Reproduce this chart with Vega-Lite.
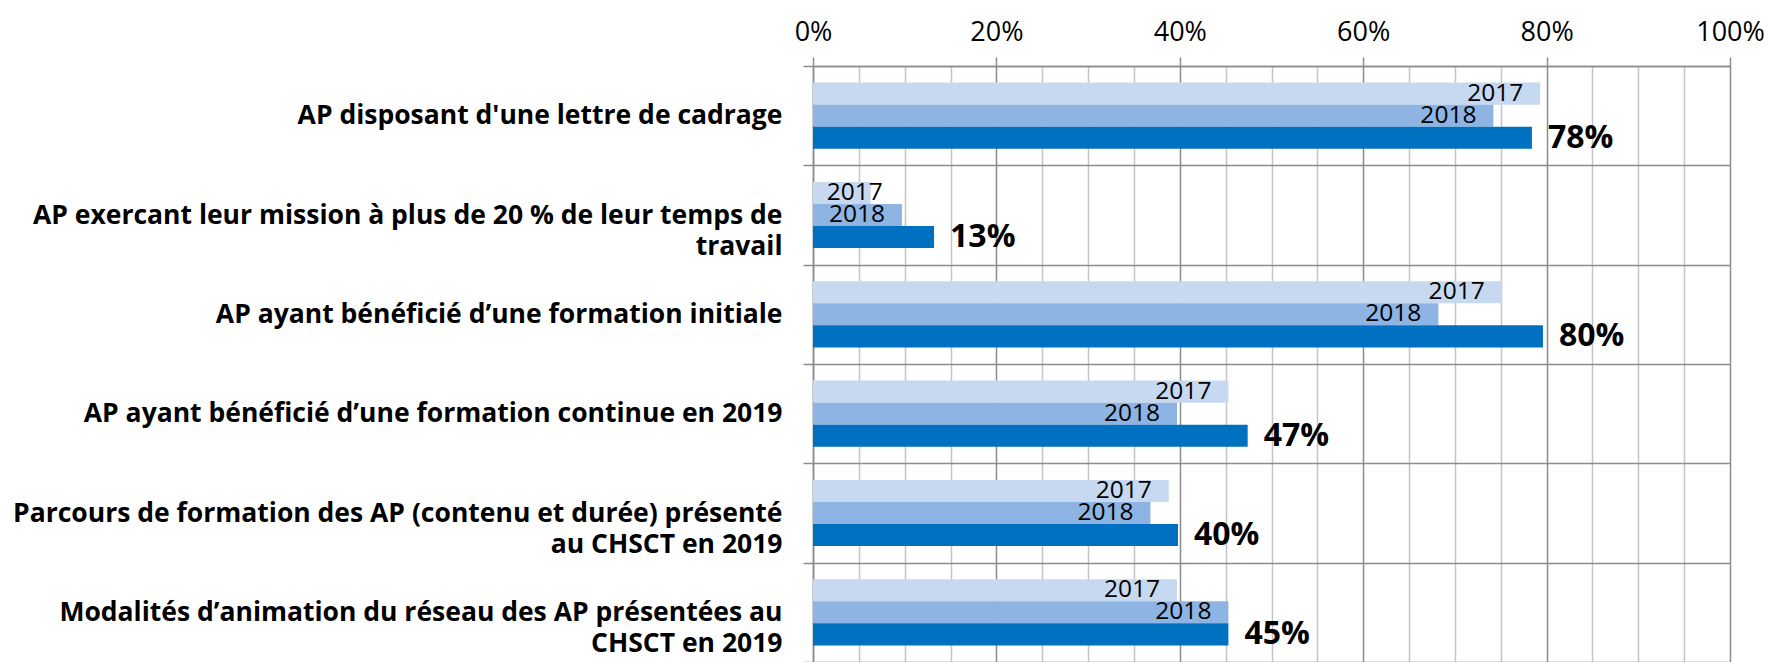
{
  "$schema": "https://vega.github.io/schema/vega-lite/v6.json",
  "width": 917,
  "height": 596,
  "autosize": "none",
  "padding": {"left": 813, "top": 66, "right": 40, "bottom": 0},
  "background": "white",
  "config": {"view": {"stroke": null}, "font": "Open Sans"},
  "data": {
    "values": [
      {"cat": "AP disposant d'une lettre de cadrage", "year": "2017", "v": 0.793},
      {"cat": "AP disposant d'une lettre de cadrage", "year": "2018", "v": 0.742},
      {"cat": "AP disposant d'une lettre de cadrage", "year": "2019", "v": 0.784},
      {"cat": "AP exercant leur mission à plus de 20 % de leur temps de|travail", "year": "2017", "v": 0.063},
      {"cat": "AP exercant leur mission à plus de 20 % de leur temps de|travail", "year": "2018", "v": 0.097},
      {"cat": "AP exercant leur mission à plus de 20 % de leur temps de|travail", "year": "2019", "v": 0.132},
      {"cat": "AP ayant bénéficié d’une formation initiale", "year": "2017", "v": 0.751},
      {"cat": "AP ayant bénéficié d’une formation initiale", "year": "2018", "v": 0.682},
      {"cat": "AP ayant bénéficié d’une formation initiale", "year": "2019", "v": 0.796},
      {"cat": "AP ayant bénéficié d’une formation  continue en 2019", "year": "2017", "v": 0.453},
      {"cat": "AP ayant bénéficié d’une formation  continue en 2019", "year": "2018", "v": 0.397},
      {"cat": "AP ayant bénéficié d’une formation  continue en 2019", "year": "2019", "v": 0.474},
      {"cat": "Parcours de formation des AP (contenu et durée) présenté|au CHSCT en 2019", "year": "2017", "v": 0.388},
      {"cat": "Parcours de formation des AP (contenu et durée) présenté|au CHSCT en 2019", "year": "2018", "v": 0.368},
      {"cat": "Parcours de formation des AP (contenu et durée) présenté|au CHSCT en 2019", "year": "2019", "v": 0.398},
      {"cat": "Modalités d’animation du réseau des AP présentées au|CHSCT en 2019", "year": "2017", "v": 0.397},
      {"cat": "Modalités d’animation du réseau des AP présentées au|CHSCT en 2019", "year": "2018", "v": 0.453},
      {"cat": "Modalités d’animation du réseau des AP présentées au|CHSCT en 2019", "year": "2019", "v": 0.453}
    ]
  },
  "encoding": {
    "y": {
      "field": "cat",
      "type": "nominal",
      "sort": null,
      "scale": {"paddingInner": 0, "paddingOuter": 0},
      "axis": {
        "title": null,
        "orient": "left",
        "tickBand": "extent",
        "tickSize": 10,
        "tickColor": "#8c8c8c",
        "tickWidth": 1.5,
        "grid": true,
        "gridColor": "#8c8c8c",
        "gridWidth": 1.5,
        "domainColor": "#8c8c8c",
        "domainWidth": 1.5,
        "labelFont": "Open Sans",
        "labelFontWeight": "bold",
        "labelFontSize": 26.5,
        "labelColor": "black",
        "labelLimit": 1000,
        "labelAlign": "right",
        "labelBaseline": "middle",
        "labelLineHeight": 31,
        "labelPadding": 21,
        "labelExpr": "split(datum.label, '|')"
      }
    },
    "x": {
      "field": "v",
      "type": "quantitative",
      "stack": null,
      "scale": {"domain": [0, 1], "nice": false},
      "axis": {
        "orient": "top",
        "title": null,
        "values": [0, 0.05, 0.1, 0.15, 0.2, 0.25, 0.3, 0.35, 0.4, 0.45, 0.5, 0.55, 0.6, 0.65, 0.7, 0.75, 0.8, 0.85, 0.9, 0.95, 1],
        "format": ".0%",
        "labelExpr": "round(datum.value * 100) % 20 == 0 ? datum.label : ''",
        "grid": true,
        "gridColor": {"condition": {"test": "round(datum.value * 100) % 20 == 0", "value": "#8c8c8c"}, "value": "#c4c4c4"},
        "gridWidth": 1.5,
        "tickColor": {"condition": {"test": "round(datum.value * 100) % 20 == 0", "value": "#8c8c8c"}, "value": "transparent"},
        "tickSize": 9,
        "tickWidth": 1.5,
        "domainColor": "#8c8c8c",
        "domainWidth": 1.5,
        "labelFont": "Open Sans",
        "labelFontSize": 27,
        "labelColor": "black",
        "labelPadding": 11,
        "labelFlush": false,
        "labelOverlap": false
      }
    },
    "yOffset": {"field": "year", "type": "nominal", "scale": {"domain": ["2017", "2018", "2019"], "paddingInner": 0, "paddingOuter": 0.75}}
  },
  "layer": [
    {
      "mark": {"type": "bar"},
      "encoding": {
        "color": {"field": "year", "type": "nominal", "scale": {"domain": ["2017", "2018", "2019"], "range": ["#c6d9f1", "#8db4e2", "#0070c0"]}, "legend": null}
      }
    },
    {
      "transform": [{"filter": "datum.year != '2019' && datum.v >= 0.08"}],
      "mark": {"type": "text", "align": "right", "baseline": "middle", "fontSize": 24.5, "font": "Open Sans", "color": "black", "dx": -17},
      "encoding": {
        "text": {"field": "year", "type": "nominal"}
      }
    },
    {
      "transform": [{"filter": "datum.year != '2019' && datum.v < 0.08"}],
      "mark": {"type": "text", "align": "right", "baseline": "middle", "fontSize": 24.5, "font": "Open Sans", "color": "black", "dx": 12},
      "encoding": {
        "text": {"field": "year", "type": "nominal"}
      }
    },
    {
      "transform": [{"filter": "datum.year == '2019'"}],
      "mark": {"type": "text", "align": "left", "baseline": "middle", "fontSize": 32, "fontWeight": "bold", "font": "Open Sans", "color": "black", "dx": 16},
      "encoding": {
        "text": {"field": "v", "type": "quantitative", "format": ".0%"}
      }
    }
  ]
}
